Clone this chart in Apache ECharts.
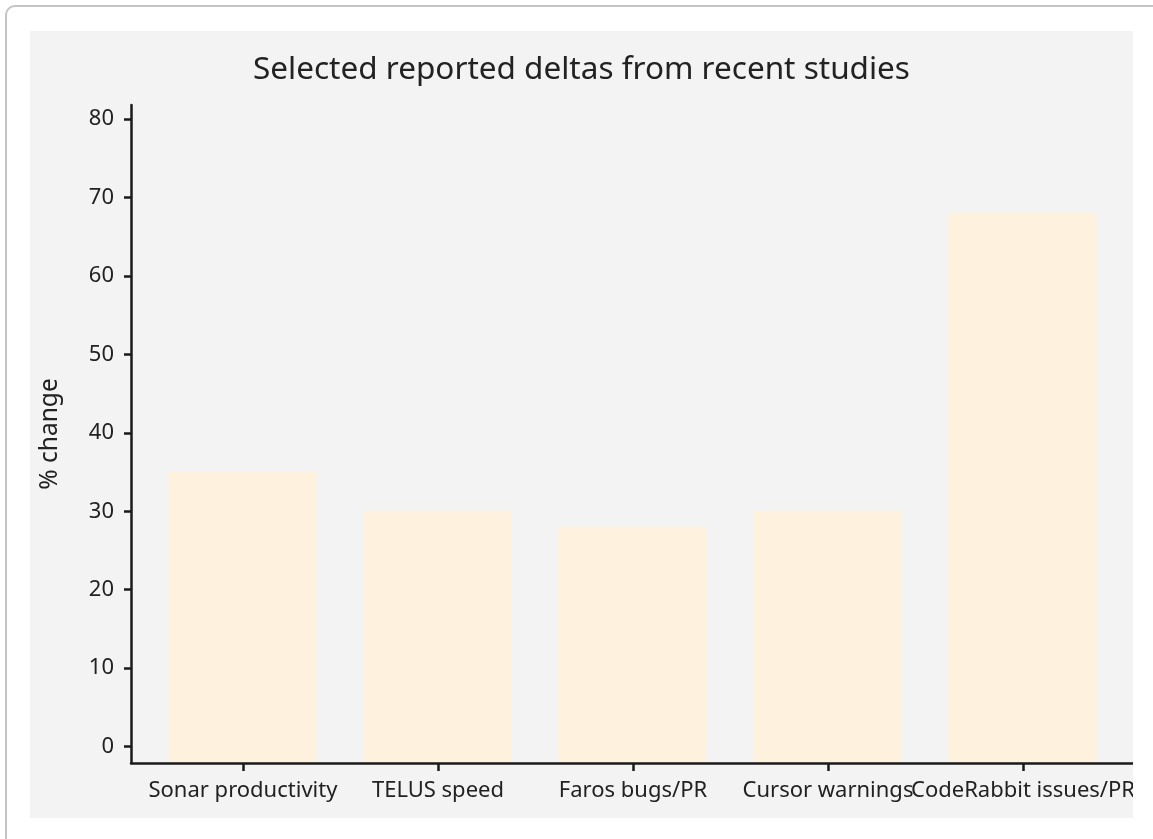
<!DOCTYPE html>
<html>
<head>
<meta charset="utf-8">
<script src="https://cdn.jsdelivr.net/npm/echarts@6/dist/echarts.min.js"></script>
<style>
  html, body { margin: 0; padding: 0; background: #ffffff; width: 1153px; height: 839px; overflow: hidden; }
  #card { position: absolute; left: 5px; top: 5px; width: 1180px; height: 900px; border: 2px solid #c4c4c4; border-radius: 10px; box-sizing: border-box; background: #ffffff; }
  #chart { position: absolute; left: 30px; top: 31px; width: 1103px; height: 787px; }
</style>
</head>
<body>
<div id="card"></div>
<div id="chart"></div>
<script>
const titleText = 'Selected reported deltas from recent studies';
const yAxisName = '% change';
const categories = ['Sonar productivity', 'TELUS speed', 'Faros bugs/PR', 'Cursor warnings', 'CodeRabbit issues/PR'];
const values = [35, 30, 28, 30, 68];
const yTicks = [0, 10, 20, 30, 40, 50, 60, 70, 80];

const catPositions = categories.map((c, i) => i);
const evenPositions = catPositions.filter((i) => i % 2 === 0);
const oddPositions = catPositions.filter((i) => i % 2 === 1);
const barData = values.map((v, i) => [i, v]);

const chart = echarts.init(document.getElementById('chart'), null, { renderer: 'canvas' });
const font = '"Noto Sans", "Open Sans", sans-serif';
const xMin = -0.574, xMax = 4.564;
const labelStyle = {
  formatter: (v) => categories[Math.round(v)],
  fontFamily: font, fontSize: 22, color: '#222222', margin: 17,
  showMinLabel: true, showMaxLabel: true, hideOverlap: false
};
chart.setOption({
  backgroundColor: '#f3f3f3',
  animation: false,
  title: {
    text: titleText,
    left: 'center',
    top: 18,
    textStyle: { fontFamily: font, fontSize: 31.5, fontWeight: 'normal', color: '#222222' }
  },
  grid: { left: 101, right: 0, top: 74, bottom: 55, containLabel: false, outerBoundsMode: 'none' },
  xAxis: [{
    type: 'value',
    z: 5,
    min: xMin,
    max: xMax,
    position: 'bottom',
    splitLine: { show: false },
    axisLine: { show: true, onZero: false, lineStyle: { color: '#1a1a1a', width: 2.5 } },
    axisTick: { show: true, customValues: catPositions, length: 8, lineStyle: { color: '#1a1a1a', width: 2.5 } },
    axisLabel: Object.assign({ customValues: evenPositions }, labelStyle)
  }, {
    type: 'value',
    z: 5,
    min: xMin,
    max: xMax,
    position: 'bottom',
    offset: 0,
    splitLine: { show: false },
    axisLine: { show: false, onZero: false },
    axisTick: { show: false },
    axisLabel: Object.assign({ customValues: oddPositions }, labelStyle)
  }],
  yAxis: {
    type: 'value',
    z: 5,
    min: -2.1,
    max: 81.8,
    startValue: -2.1,
    name: yAxisName,
    nameLocation: 'middle',
    nameGap: 68,
    nameTextStyle: { fontFamily: font, fontSize: 24.5, color: '#222222' },
    splitLine: { show: false },
    axisLine: { show: true, onZero: false, lineStyle: { color: '#1a1a1a', width: 2.5 } },
    axisTick: { show: true, customValues: yTicks, length: 7, lineStyle: { color: '#1a1a1a', width: 2.5 } },
    axisLabel: { customValues: yTicks, fontFamily: font, fontSize: 22, color: '#222222', margin: 17 }
  },
  series: [{
    type: 'bar',
    xAxisIndex: 0,
    data: barData,
    barWidth: 148,
    itemStyle: { color: '#fef2de' },
    emphasis: { disabled: true }
  }]
});
</script>
</body>
</html>
